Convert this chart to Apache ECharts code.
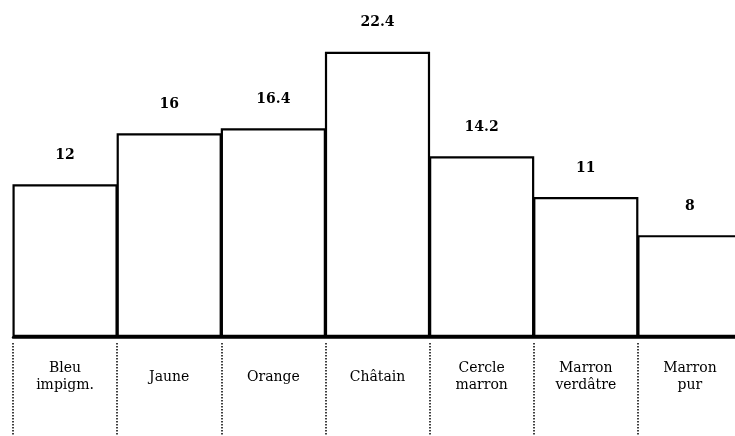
<!DOCTYPE html>
<html>
<head>
<meta charset="utf-8">
<script src="https://cdn.jsdelivr.net/npm/echarts@6/dist/echarts.min.js"></script>
<style>
  html, body { margin: 0; padding: 0; background: #fff; overflow: hidden; }
  /* un peu plus large que la fenêtre : la dernière colonne sort du cadre */
  #chart { width: 742px; height: 436px; }
</style>
</head>
<body>
<div id="chart"></div>
<script>
// couleurs des yeux
var categories = ['Bleu\nimpigm.', 'Jaune', 'Orange', 'Châtain', 'Cercle\nmarron', 'Marron\nverdâtre', 'Marron\npur']
var values = [12, 16, 16.4, 22.4, 14.2, 11, 8]

var font = 'DejaVu Serif'
var ink = '#000'

var myChart = echarts.init(document.getElementById('chart'))
var option = {
  backgroundColor: '#fff',
  animation: false,
  grid: { left: 13, right: 0, top: 6, bottom: 99 },
  xAxis: [
    {
      type: 'category',
      data: categories,
      boundaryGap: true,
      axisLine: { show: true, lineStyle: { color: ink, width: 2.5 } },
      axisTick: { show: false },
      axisLabel: {
        interval: 0,
        margin: 40,
        verticalAlign: 'middle',
        color: ink,
        fontFamily: font,
        fontSize: 14,
        lineHeight: 17
      }
    },
    {
      // séparateurs pointillés sous l'axe
      type: 'category',
      data: categories,
      boundaryGap: true,
      position: 'bottom',
      offset: 6,
      axisLine: { show: false },
      axisTick: { show: true, interval: 0, length: 100, lineStyle: { color: ink, width: 1.5, type: [1.5, 1.5] } },
      axisLabel: { show: false }
    }
  ],
  yAxis: {
    type: 'value',
    min: 0,
    max: 26,
    show: false
  },
  series: [
    {
      type: 'bar',
      data: values,
      barWidth: '101%',
      itemStyle: { color: 'rgba(255,255,255,0)', borderColor: ink, borderWidth: 2.2 },
      label: {
        show: true,
        position: 'top',
        distance: 22,
        color: ink,
        fontFamily: font,
        fontWeight: 'bold',
        fontSize: 14
      }
    }
  ]
}
myChart.setOption(option)
</script>
</body>
</html>
